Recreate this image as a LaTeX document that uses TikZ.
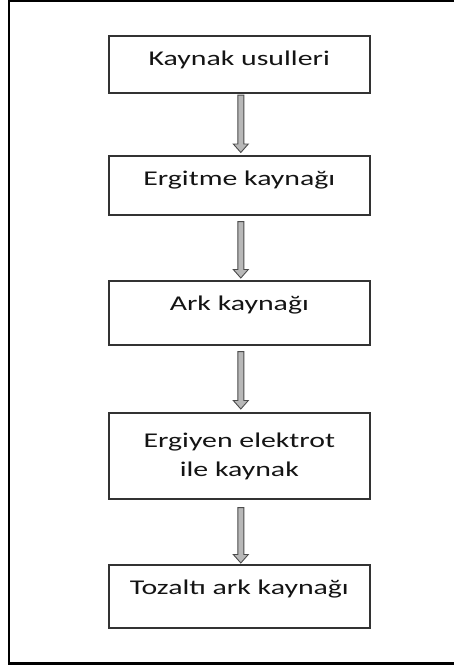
\documentclass[tikz,border=0pt]{standalone}
\usepackage{fontspec}
\setmainfont{Carlito}
\usetikzlibrary{calc}
\tikzset{
  box/.style={draw=black!80, line width=1.6pt, fill=white, inner xsep=0pt, inner ysep=0pt,
    minimum width=261pt, anchor=north west, align=center, text=black!92,
    font=\fontsize{21}{29}\selectfont},
  blockarr/.style={draw=black!70, fill=black!28, line width=0.9pt, line join=miter},
  frame/.style={draw=black, line width=2.2pt}
}
\newcommand\sx[1]{\scalebox{1.42}[1]{#1}}
\newcommand\blockarrow[4]{%
  \draw[blockarr] let \p1=($(#1.south)+(1.5,#3)$), \p2=($(#2.north)+(1.5,-#4)$) in
   (\x1-3pt,\y1) -- (\x1+3pt,\y1) -- (\x1+3pt,\y2+8.5pt) -- (\x1+7.5pt,\y2+8.5pt) --
   (\x1,\y2) -- (\x1-7.5pt,\y2+8.5pt) -- (\x1-3pt,\y2+8.5pt) -- cycle;}
\begin{document}
\begin{tikzpicture}[x=1pt,y=-1pt]
\useasboundingbox (0,0) rectangle (454,667);
\fill[white] (0,0) rectangle (454,667);
\coordinate (ftr) at (470,1);
\coordinate (ftl) at (9,1);
\coordinate (fbl) at (9,663.5);
\coordinate (fbr) at (470,663.5);
\draw[frame] (ftr) -- (ftl) -- (fbl) -- (fbr);

\node[box, text height=30pt, text depth=27pt] (b1) at (108,35) {\sx{Kaynak usulleri}};
\node[box, text height=30pt, text depth=29pt] (b2) at (108,155) {\sx{Ergitme kaynağı}};
\node[box, text height=30pt, text depth=34pt] (b3) at (108,280) {\sx{Ark kaynağı}};
\node[box, minimum height=86pt] (b4) at (108,412) {\sx{\begin{tabular}{@{}c@{}}Ergiyen elektrot\\ile kaynak\end{tabular}}};
\node[box, text height=30pt, text depth=33pt] (b5) at (108,564) {\sx{Tozaltı ark kaynağı}};

\blockarrow{b1}{b2}{1.5}{2.5}
\blockarrow{b2}{b3}{6}{2}
\blockarrow{b3}{b4}{6}{3}
\blockarrow{b4}{b5}{8}{1}
\end{tikzpicture}
\end{document}
